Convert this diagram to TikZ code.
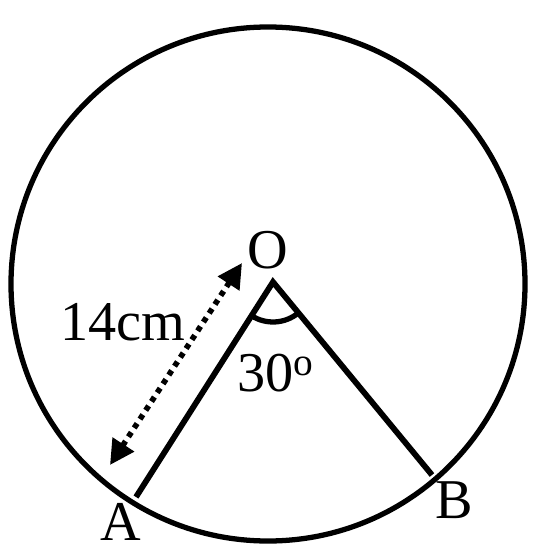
\documentclass[tikz,border=0pt]{standalone}
\usepackage{fontspec}
\setmainfont{Liberation Serif}
\usepackage{tikz}
\usetikzlibrary{positioning,calc,angles}
\usetikzlibrary{arrows.meta}
\tikzset{
	rim/.style={draw=black,line width=3pt},
	side/.style={draw=black,line width=3.3pt},
	lbl/.style={font=\fontsize{32}{36}\selectfont,inner sep=0pt},
	radarrow/.style={draw=black,line width=3.2pt,dash pattern=on 3pt off 3pt,
		{Triangle[length=14pt,width=14pt]}-{Triangle[length=14pt,width=14pt]}},
}

\begin{document}
\begin{tikzpicture}[x=0.02cm,y=-0.02cm]
			\useasboundingbox (0,0) rectangle (533,550);
			\coordinate (c) at (268,284);
			\coordinate (O) at (273,282);
			\coordinate (A) at (136,497);
			\coordinate (B) at (432,475);
			\coordinate (p) at (110,465);
			\coordinate (q) at (242,263);
			\draw[rim] (c) circle (257);
			\draw[side,line join=miter] (A) -- (O) -- (B);
			\draw[radarrow] (p) -- (q);
			\pic[draw=black,line width=3pt,angle radius=0.8cm] {angle=A--O--B};
			\node[lbl] (oname) at (268,250) {O};
			\node[lbl] (aname) at (121,522) {A};
			\node[lbl] (bname) at (454,500) {B};
			\node[lbl] (radius) at (123,322) {14cm};
			\node[lbl] (angle) at (276,373) {30\textsuperscript{o}};
		\end{tikzpicture}
\end{document}
